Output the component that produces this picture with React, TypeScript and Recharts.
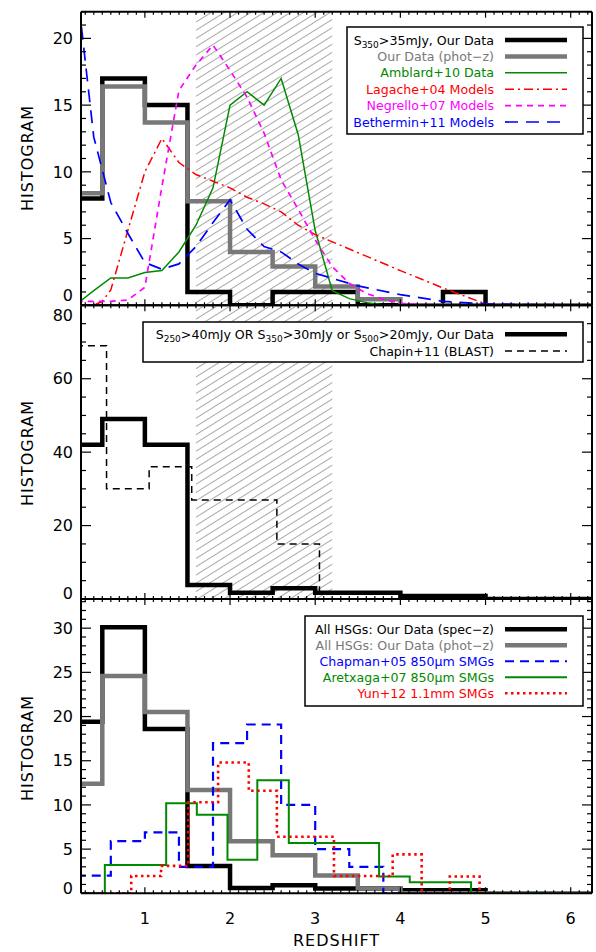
import React from "react";
import { ComposedChart, Line, ReferenceArea, XAxis, YAxis } from "recharts";

// redshift axis shared by all three panels
const Z_MIN = 0.25;
const Z_MAX = 6.25;

// ---- top panel: S350 > 35 mJy
const p1SpecEdges = [0, 0.5, 1, 1.5, 2, 2.5, 3, 3.5, 4, 4.5, 5, 6.5];
const p1SpecCounts = [8, 17, 15, 1, 0, 1, 1, 0, 0, 1, 0];
const p1PhotEdges = [0, 0.5, 1, 1.5, 2, 2.5, 3, 3.5, 4, 6.5];
const p1PhotCounts = [8.4, 16.4, 13.7, 7.8, 4.0, 2.9, 1.4, 0.45, 0];

const amblardZ = [0.2, 0.4, 0.6, 0.8, 1.0, 1.2, 1.4, 1.6, 1.8, 2.0, 2.2, 2.4, 2.6, 2.8, 3.0, 3.2, 3.4, 3.6, 3.8, 4.0];
const amblardN = [0.1, 1.1, 2.05, 2.05, 2.45, 2.6, 4.0, 6.0, 8.8, 15.0, 16.0, 15.0, 17.0, 12.8, 5.6, 1.1, 0.5, 0.2, 0.05, 0];

const lagacheZ = [0.2, 0.4, 0.5, 0.6, 0.8, 1.0, 1.2, 1.4, 1.6, 1.8, 2.0, 2.2, 2.4, 2.6, 2.8, 3.0, 3.5, 4.0, 4.5, 5.0, 5.5];
const lagacheN = [0, 0, 0.3, 1.15, 5.6, 10.0, 12.5, 10.7, 9.8, 9.3, 8.8, 8.1, 7.6, 7.0, 6.0, 5.3, 3.95, 2.6, 1.3, 0.1, 0];

const negrelloZ = [0.2, 0.4, 0.6, 0.8, 1.0, 1.2, 1.4, 1.6, 1.8, 2.0, 2.2, 2.4, 2.6, 2.8, 3.0, 3.2, 3.4, 3.6, 3.8, 4.0, 4.5];
const negrelloN = [0.3, 0.3, 0.3, 0.4, 1.35, 8.9, 16.1, 18.0, 19.5, 17.6, 15.6, 12.9, 9.4, 7.2, 4.9, 2.9, 1.65, 0.9, 0.45, 0.15, 0];

const bethZ = [0.2, 0.4, 0.6, 0.8, 1.0, 1.2, 1.4, 1.6, 1.8, 2.0, 2.2, 2.4, 2.6, 2.8, 3.0, 3.5, 4.0, 4.5, 5.0, 5.5, 6.5];
const bethN = [24.0, 12.6, 7.7, 5.4, 3.2, 2.7, 3.1, 4.4, 6.2, 7.9, 5.7, 4.4, 4.0, 3.1, 2.4, 1.45, 0.8, 0.3, 0.1, 0.05, 0.02];

// ---- middle panel: S250 / S350 / S500 selection
const p2SpecEdges = [0, 0.5, 1, 1.5, 2, 2.5, 3, 4, 5, 6.5];
const p2SpecCounts = [42, 49, 42, 3.8, 1.7, 2.9, 1.7, 0.8, 0];
const chapinEdges = [0.05, 0.55, 1.05, 1.55, 2.05, 2.55, 3.05, 3.55];
const chapinCounts = [69, 30, 36, 27, 27, 15, 0];

// ---- bottom panel: all HSGs vs SMG surveys
const p3SpecEdges = [0, 0.5, 1, 1.5, 2, 2.5, 3, 4, 5, 6.5];
const p3SpecCounts = [19.4, 30.1, 18.6, 3.1, 0.6, 0.9, 0.55, 0.35, 0];
const p3PhotEdges = [0, 0.5, 1, 1.5, 2, 2.5, 3, 3.5, 4, 6.5];
const p3PhotCounts = [12.4, 24.6, 20.5, 11.7, 5.9, 4.3, 2.0, 0.55, 0];
const chapmanEdges = [0.2, 0.6, 1.0, 1.4, 1.8, 2.2, 2.6, 3.0, 3.4, 3.8, 4.0];
const chapmanCounts = [2.0, 5.9, 6.9, 3.0, 17.0, 19.1, 10.0, 5.0, 3.0, 0];
const aretxagaEdges = [0.2, 0.53, 1.25, 1.61, 1.97, 2.32, 2.69, 3.75, 4.11, 4.83, 5.72];
const aretxagaCounts = [0, 3.2, 10.2, 8.9, 3.8, 12.8, 5.7, 1.9, 1.25, 0];
const yunEdges = [0.1, 0.84, 1.19, 1.51, 1.86, 2.22, 2.55, 3.22, 3.91, 4.25, 4.58, 4.93, 5.4];
const yunCounts = [0, 1.95, 3.1, 10.3, 14.8, 11.6, 6.4, 1.95, 4.4, 0, 1.9, 0];

const FONT = "DejaVu Sans";
const GRAY = "#787878";
const GREEN = "#008a00";
const LEG_FS = 12.6;

type Pt = { z: number; n: number };

const steps = (edges: number[], counts: number[]): Pt[] =>
  edges.map((z, i) => ({ z, n: counts[Math.min(i, counts.length - 1)] }));
const curve = (zs: number[], ns: number[]): Pt[] => zs.map((z, i) => ({ z, n: ns[i] }));

const range = (a: number, b: number, step: number) => {
  const out: number[] = [];
  for (let i = Math.round(a / step); i <= Math.round(b / step); i++) {
    out.push(Math.round(i * step * 1e6) / 1e6);
  }
  return out;
};

const xTicks = range(0.3, 6.2, 0.1);

type Series = {
  name: string;
  data: Pt[];
  color: string;
  width: number;
  dash?: string;
  step?: boolean;
};

function XTick(props: any) {
  const { x, y, payload, dir, label } = props;
  const v = payload.value;
  const major = Math.abs(v - Math.round(v)) < 1e-6;
  const len = major ? 6 : 3;
  return (
    <g>
      <line x1={x} x2={x} y1={y} y2={y + dir * len} stroke="#000" strokeWidth={1.2} />
      {label && major && (
        <text x={x} y={y + 30.5} textAnchor="middle" fontFamily={FONT} fontSize={16} fill="#000">
          {Math.round(v)}
        </text>
      )}
    </g>
  );
}

function YTick(props: any) {
  const { x, y, payload, dir, label, majorStep, yMax, zeroShift } = props;
  const v = payload.value;
  const major = Math.abs(v / majorStep - Math.round(v / majorStep)) < 1e-6;
  const len = major ? 10 : 5;
  let dy = 0;
  if (v === 0) dy = zeroShift;
  if (v === yMax) dy = 10;
  return (
    <g>
      <line x1={x} x2={x + dir * len} y1={y} y2={y} stroke="#000" strokeWidth={1.2} />
      {label && major && (
        <text
          x={x - 8}
          y={y + dy}
          dy="0.36em"
          textAnchor="end"
          fontFamily={FONT}
          fontSize={16}
          fill="#000"
        >
          {v}
        </text>
      )}
    </g>
  );
}

type PanelProps = {
  id: string;
  top: number;
  bottom: number;
  yMax: number;
  yStep: number;
  yMajor: number;
  zeroShift: number;
  hatch: boolean;
  showX: boolean;
  series: Series[];
};

function Panel({ id, top, bottom, yMax, yStep, yMajor, zeroShift, hatch, showX, series }: PanelProps) {
  const yTicks = range(0, Math.floor(yMax / yStep) * yStep, yStep);
  const axisLine = { stroke: "#000", strokeWidth: 2 };
  // every axis takes 1px so it still renders; margins are reduced by that pixel
  return (
    <div style={{ position: "absolute", left: 0, top: 0 }}>
      <ComposedChart
        width={596}
        height={952}
        margin={{ top: top - 1, bottom: 952 - bottom - 1, left: 80, right: 3 }}
      >
        <defs>
          <pattern
            id={id}
            width={10}
            height={7}
            patternUnits="userSpaceOnUse"
            patternTransform="rotate(-32)"
          >
            <line x1={0} y1={3.5} x2={10} y2={3.5} stroke="#a8a8a8" strokeWidth={1} />
          </pattern>
        </defs>
        <XAxis
          xAxisId="b"
          dataKey="z"
          type="number"
          domain={[Z_MIN, Z_MAX]}
          allowDataOverflow
          ticks={xTicks}
          interval={0}
          height={1}
          tickSize={0}
          tickMargin={0}
          tickLine={false}
          axisLine={axisLine}
          tick={(p: any) => <XTick {...p} dir={-1} label={showX} />}
        />
        <XAxis
          xAxisId="t"
          orientation="top"
          dataKey="z"
          type="number"
          domain={[Z_MIN, Z_MAX]}
          allowDataOverflow
          ticks={xTicks}
          interval={0}
          height={1}
          tickSize={0}
          tickMargin={0}
          tickLine={false}
          axisLine={axisLine}
          tick={(p: any) => <XTick {...p} dir={1} label={false} />}
        />
        <YAxis
          yAxisId="l"
          type="number"
          domain={[0, yMax]}
          allowDataOverflow
          ticks={yTicks}
          interval={0}
          width={1}
          tickSize={0}
          tickMargin={0}
          tickLine={false}
          axisLine={axisLine}
          tick={(p: any) => (
            <YTick {...p} dir={1} label majorStep={yMajor} yMax={yMax} zeroShift={zeroShift} />
          )}
        />
        <YAxis
          yAxisId="r"
          orientation="right"
          type="number"
          domain={[0, yMax]}
          allowDataOverflow
          ticks={yTicks}
          interval={0}
          width={1}
          tickSize={0}
          tickMargin={0}
          tickLine={false}
          axisLine={axisLine}
          tick={(p: any) => (
            <YTick {...p} dir={-1} label={false} majorStep={yMajor} yMax={yMax} zeroShift={zeroShift} />
          )}
        />
        {hatch && (
          <ReferenceArea
            xAxisId="b"
            yAxisId="l"
            x1={1.6}
            x2={3.2}
            fill={`url(#${id})`}
            fillOpacity={1}
            stroke="none"
          />
        )}
        {series.map((s) => (
          <Line
            key={s.name}
            xAxisId="b"
            yAxisId="l"
            data={s.data}
            dataKey="n"
            type={s.step ? "stepAfter" : "linear"}
            stroke={s.color}
            strokeWidth={s.width}
            strokeDasharray={s.dash}
            dot={false}
            activeDot={false}
            isAnimationActive={false}
          />
        ))}
      </ComposedChart>
    </div>
  );
}

// legend text pieces: plain strings, or [string] for a subscript
type Piece = string | [string];
type LegendRow = { text: Piece[]; color: string; width: number; dash?: string };

function RowText({ pieces }: { pieces: Piece[] }) {
  let shifted = false;
  return (
    <>
      {pieces.map((p, i) => {
        if (Array.isArray(p)) {
          shifted = true;
          return (
            <tspan key={i} fontSize={9} dy={3.5}>
              {p[0]}
            </tspan>
          );
        }
        const dy = shifted ? -3.5 : undefined;
        shifted = false;
        return (
          <tspan key={i} dy={dy}>
            {p}
          </tspan>
        );
      })}
    </>
  );
}

function LegendBox({ x0, y0, x1, y1, cy0, gap, rows }: {
  x0: number; y0: number; x1: number; y1: number; cy0: number; gap: number; rows: LegendRow[];
}) {
  return (
    <g>
      <rect x={x0} y={y0} width={x1 - x0} height={y1 - y0} fill="#fff" stroke="#000" strokeWidth={1.5} />
      {rows.map((r, i) => {
        const cy = cy0 + i * gap;
        return (
          <g key={i}>
            <text x={494} y={cy + 4.5} textAnchor="end" fontFamily={FONT} fontSize={LEG_FS} fill={r.color}>
              <RowText pieces={r.text} />
            </text>
            <line x1={505} x2={567} y1={cy} y2={cy} stroke={r.color} strokeWidth={r.width} strokeDasharray={r.dash} />
          </g>
        );
      })}
    </g>
  );
}

export default function App() {
  const panel1: Series[] = [
    { name: "spec", data: steps(p1SpecEdges, p1SpecCounts), color: "#000", width: 4.5, step: true },
    { name: "phot", data: steps(p1PhotEdges, p1PhotCounts), color: GRAY, width: 4.5, step: true },
    { name: "amblard", data: curve(amblardZ, amblardN), color: GREEN, width: 1.5 },
    { name: "lagache", data: curve(lagacheZ, lagacheN), color: "#ff0000", width: 1.5, dash: "9 4 2 4" },
    { name: "negrello", data: curve(negrelloZ, negrelloN), color: "#ff00ff", width: 1.7, dash: "6 5" },
    { name: "bethermin", data: curve(bethZ, bethN), color: "#0000ff", width: 1.7, dash: "13 8" },
  ];
  const panel2: Series[] = [
    { name: "spec", data: steps(p2SpecEdges, p2SpecCounts), color: "#000", width: 4.5, step: true },
    { name: "chapin", data: steps(chapinEdges, chapinCounts), color: "#000", width: 1.5, dash: "7 5", step: true },
  ];
  const panel3: Series[] = [
    { name: "spec", data: steps(p3SpecEdges, p3SpecCounts), color: "#000", width: 4.5, step: true },
    { name: "phot", data: steps(p3PhotEdges, p3PhotCounts), color: GRAY, width: 4.5, step: true },
    { name: "chapman", data: steps(chapmanEdges, chapmanCounts), color: "#0000ff", width: 2.2, dash: "9 6", step: true },
    { name: "aretxaga", data: steps(aretxagaEdges, aretxagaCounts), color: GREEN, width: 2, step: true },
    { name: "yun", data: steps(yunEdges, yunCounts), color: "#ff0000", width: 2.6, dash: "2.5 3.5", step: true },
  ];

  return (
    <div style={{ position: "absolute", left: 0, top: 0, width: 596, height: 952, background: "#fff" }}>
      <Panel id="hatch1" top={11.7} bottom={305.3} yMax={22} yStep={1} yMajor={5} zeroShift={-10} hatch showX={false} series={panel1} />
      <Panel id="hatch2" top={305.3} bottom={599} yMax={80} yStep={5} yMajor={20} zeroShift={-6} hatch showX={false} series={panel2} />
      <Panel id="hatch3" top={599} bottom={893.3} yMax={33.3} yStep={1} yMajor={5} zeroShift={-5} hatch={false} showX series={panel3} />

      <svg width={596} height={952} style={{ position: "absolute", left: 0, top: 0 }}>
        <LegendBox
          x0={347} y0={27} x1={583} y1={134} cy0={40} gap={16.4}
          rows={[
            { text: ["S", ["350"], ">35mJy, Our Data"], color: "#000", width: 4.5 },
            { text: ["Our Data (phot\u2212z)"], color: GRAY, width: 4.5 },
            { text: ["Amblard+10 Data"], color: GREEN, width: 1.5 },
            { text: ["Lagache+04 Models"], color: "#ff0000", width: 1.5, dash: "9 4 2 4" },
            { text: ["Negrello+07 Models"], color: "#ff00ff", width: 1.7, dash: "6 5" },
            { text: ["Bethermin+11 Models"], color: "#0000ff", width: 1.7, dash: "13 8" },
          ]}
        />
        <LegendBox
          x0={143} y0={322} x1={583} y1={362} cy0={334.3} gap={16.7}
          rows={[
            {
              text: ["S", ["250"], ">40mJy OR S", ["350"], ">30mJy or S", ["500"], ">20mJy, Our Data"],
              color: "#000",
              width: 4.5,
            },
            { text: ["Chapin+11 (BLAST)"], color: "#000", width: 1.5, dash: "7 5" },
          ]}
        />
        <LegendBox
          x0={305} y0={616} x1={583} y1={706} cy0={629.3} gap={16}
          rows={[
            { text: ["All HSGs: Our Data (spec\u2212z)"], color: "#000", width: 4.5 },
            { text: ["All HSGs: Our Data (phot\u2212z)"], color: GRAY, width: 4.5 },
            { text: ["Chapman+05 850\u03bcm SMGs"], color: "#0000ff", width: 2, dash: "9 6" },
            { text: ["Aretxaga+07 850\u03bcm SMGs"], color: GREEN, width: 2 },
            { text: ["Yun+12 1.1mm SMGs"], color: "#ff0000", width: 2.6, dash: "2.5 3.5" },
          ]}
        />
        {[158, 453, 748].map((cy) => (
          <text
            key={cy}
            x={27}
            y={cy}
            transform={`rotate(-90 27 ${cy})`}
            textAnchor="middle"
            dominantBaseline="central"
            fontFamily={FONT}
            fontSize={16}
            letterSpacing={1}
            fill="#000"
          >
            HISTOGRAM
          </text>
        ))}
        <text x={336.5} y={940} dy="0.36em" textAnchor="middle" fontFamily={FONT} fontSize={16} letterSpacing={1} fill="#000">
          REDSHIFT
        </text>
      </svg>
    </div>
  );
}
